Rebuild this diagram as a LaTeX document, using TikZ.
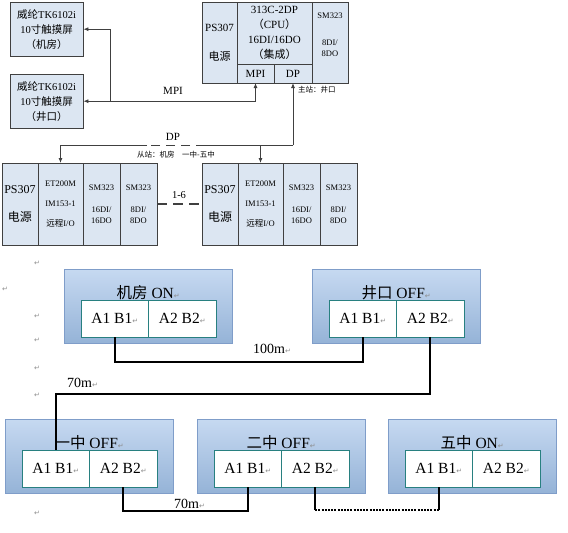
\documentclass[tikz,border=0pt]{standalone}
\usepackage{fontspec}
\setmainfont{Liberation Serif}
\newfontfamily\cjk{Noto Sans CJK SC}
\newfontfamily\symfont{DejaVu Sans}
\usetikzlibrary{arrows.meta,positioning,calc}
\definecolor{rackfill}{RGB}{220,230,242}
\definecolor{rackline}{RGB}{64,64,64}
\definecolor{boxtop}{RGB}{198,217,241}
\definecolor{boxbot}{RGB}{149,179,215}
\definecolor{boxline}{RGB}{127,157,201}
\definecolor{portline}{RGB}{40,128,128}
\definecolor{markgray}{RGB}{140,140,140}
\newcommand{\parmark}{{\symfont\fontsize{7}{7}\selectfont\textcolor{markgray}{↵}}}

\begin{document}
\begin{tikzpicture}[
        x=1pt, y=-1pt,
        hmibox/.style={draw=rackline, fill=rackfill, minimum width=73, minimum height=54, inner sep=0, anchor=north west, align=center, font=\fontsize{10.5}{15}\selectfont},
        sect/.style={draw=rackline, fill=rackfill, inner sep=0, outer sep=0, align=center},
        link/.style={draw=rackline, line width=0.8pt},
        arrow/.style={link, -{Latex[length=5pt,width=4pt]}},
        lbl/.style={inner sep=1pt, font=\fontsize{11}{11}\selectfont},
        note/.style={inner sep=1pt, font=\cjk\fontsize{7.5}{7.5}\selectfont},
        station/.style={draw=boxline, top color=boxtop, bottom color=boxbot, minimum width=168, minimum height=74, inner sep=0, anchor=north west},
        port/.style={draw=portline, fill=white, line width=1pt, minimum width=67.5, minimum height=37, inner sep=0, outer sep=0, font=\fontsize{15.5}{15.5}\selectfont},
        title/.style={inner sep=0, font=\fontsize{15.5}{15.5}\selectfont},
        cable/.style={line width=2.2pt},
        dist/.style={inner sep=1pt, anchor=west, font=\fontsize{14}{14}\selectfont},
        pmark/.style={inner sep=0}
        ]
        \useasboundingbox (0,0) rectangle (568,533);

        % touch screens
        \node[hmibox] (hmi1) at (10,2) {{\cjk 威纶}TK6102i\\10{\cjk 寸触摸屏}\\{\cjk （机房）}};
        \node[hmibox] (hmi2) at (10,74) {{\cjk 威纶}TK6102i\\10{\cjk 寸触摸屏}\\{\cjk （井口）}};

        % master rack
        \node[sect, minimum width=35, minimum height=81, anchor=north west, font=\fontsize{11}{15}\selectfont] (cps) at (202,2) {PS307\\[14pt]{\cjk 电源}};
        \node[sect, minimum width=75, minimum height=62, anchor=north west, font=\fontsize{11}{15}\selectfont] (cpu) at (cps.north east) {313C-2DP\\{\cjk （}CPU{\cjk ）}\\16DI/16DO\\{\cjk （集成）}};
        \node[sect, minimum width=37, minimum height=19, anchor=north west, font=\fontsize{11}{11}\selectfont] (mpi) at (cpu.south west) {MPI};
        \node[sect, minimum width=38, minimum height=19, anchor=north west, font=\fontsize{11}{11}\selectfont] (dp) at (mpi.north east) {DP};
        \node[sect, minimum width=36, minimum height=81, anchor=north west, font=\fontsize{8.5}{11}\selectfont] (csm) at (cpu.north east) {SM323\\[16pt]8DI/\\8DO\\[4pt]\mbox{}};

        % slave racks
        \node[sect, minimum width=36, minimum height=82, anchor=north west, font=\fontsize{12}{14}\selectfont] (ps1) at (2,163) {PS307\\[14pt]{\cjk 电源}};
        \node[sect, minimum width=45, minimum height=82, right=0pt of ps1, font=\fontsize{8.5}{20}\selectfont] (et1) {ET200M\\IM153-1\\{\cjk 远程}I/O};
        \node[sect, minimum width=37, minimum height=82, right=0pt of et1, font=\fontsize{8.5}{11}\selectfont] (sma1) {SM323\\[11pt]16DI/\\16DO};
        \node[sect, minimum width=37, minimum height=82, right=0pt of sma1, font=\fontsize{8.5}{11}\selectfont] (smb1) {SM323\\[11pt]8DI/\\8DO};

        \node[sect, minimum width=36, minimum height=82, anchor=north west, font=\fontsize{12}{14}\selectfont] (ps2) at (202,163) {PS307\\[14pt]{\cjk 电源}};
        \node[sect, minimum width=45, minimum height=82, right=0pt of ps2, font=\fontsize{8.5}{20}\selectfont] (et2) {ET200M\\IM153-1\\{\cjk 远程}I/O};
        \node[sect, minimum width=37, minimum height=82, right=0pt of et2, font=\fontsize{8.5}{11}\selectfont] (sma2) {SM323\\[11pt]16DI/\\16DO};
        \node[sect, minimum width=37, minimum height=82, right=0pt of sma2, font=\fontsize{8.5}{11}\selectfont] (smb2) {SM323\\[11pt]8DI/\\8DO};

        % MPI bus
        \coordinate (mpiJ) at ($(hmi2.east)+(27,0)$);
        \draw[arrow] (mpiJ) |- (hmi1.east);
        \draw[arrow] (mpiJ) -- (hmi2.east);
        \draw[arrow] (mpiJ) -| (mpi.south);
        \node[lbl] (mpilbl) at (173,91) {MPI};

        % DP bus
        \coordinate (dpJ) at ($(dp.south)+(0,62)$);
        \coordinate (dashR) at ($(dpJ)+(-88,0)$);
        \coordinate (dashL) at ($(dashR)+(-58,0)$);
        \draw[arrow] (dpJ) -- (dp.south);
        \draw[link] (dpJ) -- (dashR);
        \draw[link, dash pattern=on 9pt off 6pt] (dashR) -- (dashL);
        \draw[arrow] (dashL) -| (et1.north);
        \draw[arrow] (et2.north |- dpJ) -- (et2.north);
        \node[lbl] (dplbl) at (173,137) {DP};
        \node[note, anchor=west] (master) at (297,90) {主站：井口};
        \node[note] (slaves) at (176,155) {从站：机房\quad 一中-五中};

        \draw[link, line width=1.8pt, dash pattern=on 10pt off 6pt] (smb1.east) -- (ps2.west);
        \node[lbl, font=\fontsize{10.5}{10.5}\selectfont] (linklbl) at (179,195) {1-6};

        % stations
        \node[station] (jf) at (64,269) {};
        \node[station] (jk) at (312,269) {};
        \node[station] (yz) at (5,419) {};
        \node[station] (ez) at (197,419) {};
        \node[station] (wz) at (388,419) {};

        \foreach \st in {jf, jk, yz, ez, wz} {
            \node[port, anchor=north west] (\st-a1) at ($(\st.north west)+(17,31)$) {A1 B1\parmark};
            \node[port, right=0pt of \st-a1] (\st-a2) {A2 B2\parmark};
        }
        \node[title] (jf-t) at ($(jf.north)+(0,24)$) {{\cjk 机房} ON\parmark};
        \node[title] (jk-t) at ($(jk.north)+(0,24)$) {{\cjk 井口} OFF\parmark};
        \node[title] (yz-t) at ($(yz.north)+(0,24)$) {{\cjk 一中} OFF\parmark};
        \node[title] (ez-t) at ($(ez.north)+(0,24)$) {{\cjk 二中} OFF\parmark};
        \node[title] (wz-t) at ($(wz.north)+(0,24)$) {{\cjk 五中} ON\parmark};

        % cables
        \draw[cable] (jf-a1.south) -- ++(0,25) -| (jk-a1.south);
        \draw[cable] (jk-a2.south) -- ++(0,57) -| (yz-a1.north);
        \draw[cable] (yz-a2.south) -- ++(0,24) -| (ez-a1.south);
        \draw[cable] (ez-a2.south) -- ++(0,23) coordinate (ezC);
        \coordinate (wzC) at (ezC -| wz-a1.south);
        \draw[cable, dash pattern=on 2pt off 1.2pt] (ezC) -- (wzC);
        \draw[cable] (wzC) -- (wz-a1.south);

        \node[dist] (d100) at (252,349) {100m\parmark};
        \node[dist] (d70a) at (66,383) {70m\parmark};
        \node[dist] (d70b) at (173,504) {70m\parmark};

        % paragraph marks
        \foreach \mx/\my in {37/263, 5/289, 37/316, 37/340, 37/368, 37/395, 37/513}
            \node[pmark] (pm\my) at (\mx,\my) {\parmark};
\end{tikzpicture}
\end{document}
